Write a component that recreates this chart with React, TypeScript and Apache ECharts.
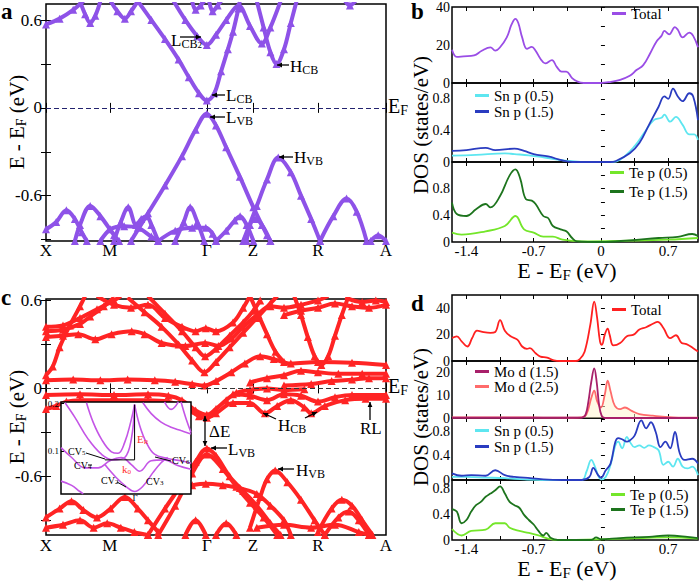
import React, { useEffect, useRef } from 'react';
import * as echarts from 'echarts';

const FONT = '"Liberation Serif", "DejaVu Serif", serif';

// ---------------- data ----------------
const K_POINTS = [0, 0.188, 0.473, 0.609, 0.8, 1.0];
const K_LABELS = ['X', 'M', 'Γ', 'Z', 'R', 'A'];
const BAND_Y_TICKS = [-0.9, -0.6, -0.3, 0, 0.3, 0.6];
const BAND_Y_LABELS = [-0.6, 0, 0.6];
const DOS_X_TICKS = [-1.4, -1.05, -0.7, -0.35, 0, 0.35, 0.7];
const DOS_X_LABELS = [-1.4, -0.7, 0, 0.7];
const INSET_Y_LABELS = [0.1, 0.2];

// band structure (a): [k, E]
const BANDS_A = [
  [[0, 0.57], [0.04, 0.61], [0.08, 0.67], [0.11, 0.73]],
  [[0.1, 0.73], [0.115, 0.64], [0.13, 0.58], [0.145, 0.63], [0.16, 0.73]],
  [[0.19, 0.73], [0.21, 0.66], [0.232, 0.61], [0.25, 0.66], [0.27, 0.73]],
  [[0.27, 0.73], [0.31, 0.6], [0.35, 0.47], [0.39, 0.33], [0.42, 0.21], [0.45, 0.1], [0.473, 0.05], [0.495, 0.1], [0.515, 0.25], [0.535, 0.4], [0.55, 0.52], [0.566, 0.68], [0.57, 0.73]],
  [[0.375, 0.73], [0.41, 0.6], [0.445, 0.49], [0.473, 0.43], [0.5, 0.5], [0.53, 0.6], [0.566, 0.7], [0.6, 0.56], [0.635, 0.44], [0.66, 0.55], [0.69, 0.73]],
  [[0.62, 0.73], [0.64, 0.55], [0.66, 0.38], [0.678, 0.3], [0.7, 0.4], [0.72, 0.58], [0.737, 0.73]],
  [[0.43, 0.73], [0.44, 0.67], [0.455, 0.7], [0.465, 0.73]],
  [[0.48, 0.73], [0.49, 0.66], [0.505, 0.7], [0.515, 0.73]],
  [[0.88, 0.73], [0.894, 0.7], [0.91, 0.73]],
  [[0.25, -0.91], [0.3, -0.72], [0.35, -0.53], [0.4, -0.33], [0.44, -0.15], [0.473, -0.04], [0.5, -0.12], [0.53, -0.27], [0.57, -0.47], [0.61, -0.68], [0.65, -0.87], [0.66, -0.91]],
  [[0.58, -0.91], [0.62, -0.67], [0.65, -0.49], [0.683, -0.34], [0.72, -0.44], [0.75, -0.6], [0.78, -0.76], [0.806, -0.91]],
  [[0.806, -0.91], [0.845, -0.74], [0.884, -0.62], [0.914, -0.71], [0.943, -0.91]],
  [[0.955, -0.91], [0.977, -0.87], [1.0, -0.91]],
  [[0, -0.83], [0.03, -0.78], [0.06, -0.7], [0.085, -0.76], [0.105, -0.85], [0.12, -0.91]],
  [[0.085, -0.91], [0.1, -0.8], [0.13, -0.67], [0.16, -0.74], [0.2, -0.87], [0.215, -0.91]],
  [[0.16, -0.91], [0.19, -0.83], [0.23, -0.81], [0.27, -0.82], [0.31, -0.88], [0.33, -0.91]],
  [[0.2, -0.91], [0.22, -0.78], [0.242, -0.68], [0.265, -0.8], [0.28, -0.76], [0.296, -0.74], [0.31, -0.8], [0.33, -0.91]],
  [[0.38, -0.91], [0.405, -0.78], [0.424, -0.68], [0.445, -0.78], [0.465, -0.91]],
  [[0.33, -0.91], [0.38, -0.84], [0.43, -0.82], [0.47, -0.82], [0.49, -0.86], [0.5, -0.91]],
  [[0.5, -0.91], [0.53, -0.84], [0.555, -0.77], [0.571, -0.74], [0.59, -0.8], [0.61, -0.91]],
  [[0.59, -0.91], [0.6, -0.8], [0.615, -0.76], [0.635, -0.8], [0.66, -0.91]],
];

// band structure (c): [k, E]
const BANDS_C = [
  [[0, 0.42], [0.05, 0.43], [0.1, 0.48], [0.15, 0.54], [0.2, 0.6], [0.22, 0.63]],
  [[0, 0.39], [0.05, 0.4], [0.1, 0.44], [0.13, 0.49], [0.17, 0.56], [0.2, 0.62]],
  [[0, 0.35], [0.05, 0.36], [0.095, 0.37], [0.145, 0.335], [0.193, 0.37], [0.252, 0.39], [0.29, 0.37], [0.34, 0.31], [0.41, 0.29], [0.468, 0.31], [0.507, 0.29], [0.546, 0.34], [0.58, 0.42], [0.62, 0.5], [0.66, 0.56], [0.7, 0.55], [0.75, 0.57], [0.8, 0.6], [0.83, 0.63]],
  [[0, 0.09], [0.02, 0.15], [0.04, 0.28], [0.07, 0.43], [0.1, 0.56], [0.115, 0.63]],
  [[0.24, 0.62], [0.29, 0.52], [0.34, 0.42], [0.39, 0.3], [0.43, 0.19], [0.466, 0.11], [0.5, 0.18], [0.54, 0.28], [0.58, 0.38], [0.62, 0.48], [0.66, 0.58], [0.68, 0.63]],
  [[0.3, 0.63], [0.35, 0.51], [0.4, 0.39], [0.44, 0.28], [0.468, 0.22], [0.5, 0.27], [0.54, 0.36], [0.58, 0.45], [0.61, 0.53], [0.63, 0.6]],
  [[0.15, 0.63], [0.2, 0.57], [0.25, 0.55], [0.3, 0.57], [0.35, 0.48], [0.4, 0.42], [0.44, 0.39], [0.47, 0.41], [0.5, 0.39], [0.55, 0.45], [0.58, 0.55], [0.6, 0.63]],
  [[0.6, 0.63], [0.625, 0.5], [0.65, 0.37], [0.675, 0.25], [0.7, 0.18]],
  [[0.73, 0.63], [0.75, 0.5], [0.77, 0.35], [0.79, 0.22], [0.81, 0.16], [0.83, 0.22], [0.85, 0.36], [0.87, 0.5], [0.89, 0.63]],
  [[0.7, 0.5], [0.75, 0.53], [0.8, 0.55], [0.85, 0.58], [0.9, 0.56], [0.95, 0.55], [1.0, 0.57]],
  [[0.88, 0.62], [0.93, 0.59], [0.97, 0.6], [1.0, 0.59]],
  [[0, 0.055], [0.08, 0.06], [0.16, 0.055], [0.24, 0.06], [0.32, 0.055], [0.38, 0.045], [0.43, 0.03], [0.466, 0.02], [0.5, 0.05], [0.545, 0.11], [0.585, 0.17], [0.63, 0.22], [0.67, 0.2], [0.72, 0.17], [0.8, 0.18], [0.9, 0.175], [1.0, 0.16]],
  [[0.6, 0.04], [0.65, 0.07], [0.7, 0.09], [0.75, 0.12], [0.8, 0.11], [0.86, 0.1], [0.93, 0.1], [1.0, 0.1]],
  [[0.7, 0.02], [0.78, 0.03], [0.84, 0.05], [0.9, 0.06], [0.95, 0.07], [1.0, 0.07]],
  [[0, -0.045], [0.1, -0.04], [0.2, -0.045], [0.3, -0.04], [0.36, -0.05], [0.4, -0.08], [0.44, -0.15], [0.473, -0.18], [0.5, -0.14], [0.53, -0.08], [0.56, -0.03], [0.6, -0.01], [0.65, 0.0], [0.7, -0.01], [0.76, -0.005]],
  [[0, -0.14], [0.03, -0.12], [0.06, -0.09], [0.1, -0.08], [0.2, -0.08], [0.3, -0.08], [0.36, -0.09], [0.41, -0.13], [0.45, -0.19], [0.473, -0.2], [0.5, -0.17], [0.55, -0.1], [0.6, -0.1], [0.644, -0.17], [0.68, -0.12], [0.72, -0.08], [0.76, -0.13], [0.78, -0.17], [0.82, -0.12], [0.88, -0.08], [0.94, -0.07], [1.0, -0.07]],
  [[0.55, -0.04], [0.6, -0.05], [0.65, -0.08], [0.7, -0.04], [0.75, -0.05], [0.8, -0.09], [0.85, -0.06], [0.9, -0.045], [1.0, -0.045]],
  [[0.3, -1.0], [0.35, -0.82], [0.4, -0.65], [0.44, -0.5], [0.473, -0.41], [0.5, -0.46], [0.54, -0.6], [0.58, -0.7], [0.62, -0.8], [0.66, -0.92], [0.69, -1.0]],
  [[0.33, -1.0], [0.38, -0.8], [0.43, -0.58], [0.473, -0.45], [0.52, -0.55], [0.56, -0.67], [0.6, -0.78], [0.64, -0.88], [0.68, -1.0]],
  [[0.43, -0.66], [0.47, -0.65], [0.52, -0.66], [0.57, -0.68], [0.62, -0.72], [0.66, -0.8], [0.7, -0.9], [0.72, -1.0]],
  [[0.6, -0.95], [0.63, -0.74], [0.65, -0.62], [0.674, -0.56], [0.71, -0.64], [0.75, -0.76], [0.79, -0.9], [0.82, -1.0]],
  [[0.8, -0.98], [0.84, -0.82], [0.87, -0.76], [0.9, -0.8], [0.93, -0.9], [0.96, -1.0]],
  [[0.82, -1.0], [0.86, -0.88], [0.89, -0.84], [0.92, -0.9], [0.95, -1.0]],
  [[0.62, -0.95], [0.7, -0.93], [0.78, -0.95], [0.85, -0.93], [0.92, -0.98], [0.95, -1.0]],
  [[0, -0.88], [0.04, -0.82], [0.075, -0.77], [0.11, -0.83], [0.15, -0.88], [0.19, -0.82], [0.232, -0.74], [0.27, -0.82], [0.3, -0.9], [0.33, -0.98]],
  [[0, -0.95], [0.05, -0.93], [0.1, -0.9], [0.14, -0.95], [0.18, -0.92], [0.22, -0.95], [0.26, -0.98], [0.3, -1.0]],
  [[0.41, -1.0], [0.44, -0.9], [0.47, -1.0]],
  [[0.5, -1.0], [0.53, -0.92], [0.56, -1.0]],
];

// inset of (c): [k (relative), E]
const INSET_BANDS = [
  [[0.031, 0.202], [0.107, 0.171], [0.209, 0.125], [0.311, 0.093], [0.4, 0.081], [0.49, 0.086], [0.541, 0.125], [0.566, 0.198]],
  [[0.196, 0.202], [0.247, 0.161], [0.311, 0.125], [0.388, 0.098], [0.439, 0.095], [0.49, 0.118], [0.536, 0.161], [0.566, 0.198]],
  [[0.566, 0.198], [0.605, 0.154], [0.656, 0.118], [0.719, 0.093], [0.821, 0.084], [0.923, 0.079], [1.0, 0.074]],
  [[0.63, 0.202], [0.694, 0.179], [0.77, 0.161], [0.847, 0.15], [0.923, 0.143], [1.0, 0.136]],
  [[0, 0.107], [0.082, 0.086], [0.184, 0.064], [0.286, 0.064], [0.375, 0.079], [0.464, 0.086], [0.541, 0.071], [0.605, 0.057], [0.694, 0.079], [0.796, 0.081], [0.898, 0.069], [1.0, 0.061]],
  [[0.337, 0.071], [0.426, 0.043], [0.503, 0.024], [0.566, 0.014], [0.63, 0.025], [0.707, 0.054], [0.77, 0.075], [0.821, 0.086]],
  [[0, 0.036], [0.082, 0.027], [0.145, 0.014], [0.171, 0.009]],
  [[0.796, 0.204], [0.847, 0.188], [0.903, 0.204]],
  [[0.923, 0.204], [0.962, 0.168], [1.0, 0.139]],
];

// DOS (b)
const B_TOTAL = [[-1.55, 17.5], [-1.5, 13.7], [-1.43, 14], [-1.32, 14.5], [-1.24, 17], [-1.15, 18.8], [-1.1, 17], [-1.05, 18.8], [-0.98, 24], [-0.93, 30.8], [-0.89, 33.8], [-0.86, 31.6], [-0.82, 24], [-0.77, 18], [-0.72, 19], [-0.68, 17], [-0.63, 12.8], [-0.58, 10.3], [-0.51, 12], [-0.46, 8.5], [-0.41, 6], [-0.36, 6], [-0.3, 2.6], [-0.25, 0.9], [-0.18, 0], [0, 0], [0.09, 0.5], [0.2, 1.7], [0.3, 3.8], [0.37, 6.8], [0.44, 9.4], [0.51, 15.4], [0.58, 22], [0.63, 24.8], [0.66, 27.4], [0.71, 25.6], [0.77, 29.4], [0.8, 28], [0.85, 24], [0.92, 26.5], [0.96, 24.8], [1.01, 18.8]];
const B_SNP05 = [[-1.55, 0.08], [-1.3, 0.09], [-1.0, 0.11], [-0.9, 0.1], [-0.75, 0.085], [-0.6, 0.06], [-0.45, 0.03], [-0.3, 0.01], [-0.15, 0], [0.1, 0], [0.2, 0.03], [0.35, 0.2], [0.45, 0.37], [0.55, 0.53], [0.63, 0.56], [0.66, 0.6], [0.72, 0.51], [0.78, 0.57], [0.85, 0.47], [0.92, 0.35], [0.97, 0.35], [1.01, 0.28]];
const B_SNP15 = [[-1.55, 0.14], [-1.4, 0.15], [-1.2, 0.18], [-1.1, 0.15], [-0.9, 0.17], [-0.8, 0.14], [-0.7, 0.1], [-0.55, 0.07], [-0.4, 0.02], [-0.3, 0], [0.1, 0], [0.15, 0.01], [0.3, 0.11], [0.4, 0.24], [0.5, 0.47], [0.6, 0.7], [0.66, 0.83], [0.7, 0.8], [0.75, 0.93], [0.8, 0.83], [0.85, 0.77], [0.92, 0.87], [0.96, 0.83], [1.01, 0.53]];
const B_TEP05 = [[-1.55, 0.14], [-1.45, 0.11], [-1.2, 0.16], [-1.0, 0.24], [-0.89, 0.39], [-0.8, 0.19], [-0.7, 0.14], [-0.6, 0.08], [-0.5, 0.08], [-0.4, 0.035], [-0.2, 0.01], [0.3, 0.02], [0.7, 0.035], [1.01, 0.06]];
const B_TEP15 = [[-1.55, 0.59], [-1.5, 0.42], [-1.4, 0.39], [-1.3, 0.49], [-1.2, 0.57], [-1.15, 0.52], [-1.05, 0.69], [-0.95, 1.0], [-0.89, 1.09], [-0.84, 0.95], [-0.78, 0.64], [-0.72, 0.62], [-0.68, 0.57], [-0.6, 0.39], [-0.55, 0.36], [-0.5, 0.24], [-0.42, 0.19], [-0.36, 0.16], [-0.3, 0.06], [-0.25, 0.01], [0, 0], [0.3, 0.025], [0.6, 0.06], [0.8, 0.076], [0.95, 0.12], [1.01, 0.09]];

// DOS (d)
const D_TOTAL = [[-1.55, 17.4], [-1.5, 18.7], [-1.45, 14.9], [-1.39, 11], [-1.34, 17.4], [-1.29, 23], [-1.22, 21.8], [-1.15, 21.3], [-1.1, 22], [-1.05, 31], [-1.0, 23], [-0.94, 18.7], [-0.87, 16.2], [-0.82, 11], [-0.77, 9.2], [-0.74, 9.7], [-0.68, 5.9], [-0.63, 3.3], [-0.56, 2.6], [-0.49, 0.5], [-0.42, 0], [-0.26, 0], [-0.22, 1.5], [-0.17, 7], [-0.11, 27.7], [-0.07, 45], [-0.04, 32.8], [-0.01, 14.9], [0.01, 12.3], [0.04, 20], [0.07, 24.6], [0.09, 20], [0.13, 11.8], [0.2, 13.6], [0.27, 18.7], [0.34, 20], [0.4, 23.8], [0.47, 25.6], [0.54, 28.2], [0.59, 29.7], [0.65, 25], [0.72, 17.4], [0.78, 19.5], [0.84, 13.6], [0.89, 12.8], [0.96, 9.7], [1.01, 7.2]];
const D_MOD15 = [[-1.55, 0.1], [-0.3, 0.1], [-0.2, 0.2], [-0.16, 1.5], [-0.13, 7.4], [-0.1, 16], [-0.07, 21.7], [-0.045, 16], [-0.02, 6], [0.007, 1], [0.04, 0], [1.01, 0]];
const D_MOD25 = [[-1.55, 0.3], [-1.2, 0.3], [-0.9, 0.3], [-0.6, 0.2], [-0.3, 0.1], [-0.2, 0.3], [-0.15, 1.7], [-0.1, 8.9], [-0.07, 12], [-0.04, 7.4], [0, 4.6], [0.04, 10.3], [0.07, 16.4], [0.1, 11.7], [0.145, 5.3], [0.2, 3.9], [0.25, 4.6], [0.32, 3.1], [0.4, 1.7], [0.54, 1], [0.75, 0.3], [1.01, 0.1]];
const D_SNP05 = [[-1.55, 0.05], [-1.4, 0.05], [-1.2, 0.04], [-1.0, 0.03], [-0.8, 0.01], [-0.6, 0], [-0.2, 0], [-0.15, 0.14], [-0.1, 0.33], [-0.07, 0.25], [-0.03, 0.08], [0, 0.01], [0.05, 0.05], [0.1, 0.25], [0.15, 0.57], [0.18, 0.63], [0.22, 0.52], [0.27, 0.71], [0.3, 0.63], [0.35, 0.54], [0.4, 0.57], [0.45, 0.53], [0.5, 0.57], [0.55, 0.54], [0.6, 0.49], [0.65, 0.25], [0.7, 0.3], [0.75, 0.22], [0.8, 0.35], [0.85, 0.22], [0.9, 0.19], [0.95, 0.22], [1.01, 0.08]];
const D_SNP15 = [[-1.55, 0.11], [-1.45, 0.07], [-1.35, 0.08], [-1.2, 0.07], [-1.1, 0.16], [-1.0, 0.08], [-0.9, 0.05], [-0.8, 0.04], [-0.6, 0.01], [-0.4, 0], [-0.2, 0], [-0.12, 0.05], [-0.08, 0.2], [-0.03, 0.08], [0, 0.04], [0.05, 0.16], [0.1, 0.27], [0.15, 0.63], [0.18, 0.69], [0.22, 0.67], [0.27, 0.63], [0.3, 0.65], [0.35, 0.73], [0.42, 0.98], [0.47, 0.85], [0.52, 0.95], [0.57, 0.79], [0.62, 0.54], [0.67, 0.63], [0.72, 0.52], [0.77, 0.79], [0.82, 0.44], [0.87, 0.33], [0.95, 0.35], [1.01, 0.27]];
const D_TEP05 = [[-1.55, 0.17], [-1.45, 0.07], [-1.35, 0.14], [-1.2, 0.16], [-1.1, 0.26], [-1.0, 0.26], [-0.95, 0.19], [-0.85, 0.14], [-0.75, 0.11], [-0.65, 0.07], [-0.55, 0.02], [-0.45, 0], [0, 0.01], [0.4, 0.03], [0.7, 0.04], [1.01, 0.02]];
const D_TEP15 = [[-1.55, 0.48], [-1.5, 0.44], [-1.45, 0.26], [-1.4, 0.31], [-1.35, 0.44], [-1.3, 0.54], [-1.25, 0.59], [-1.2, 0.67], [-1.15, 0.72], [-1.1, 0.77], [-1.05, 0.83], [-1.0, 0.72], [-0.95, 0.59], [-0.9, 0.54], [-0.85, 0.5], [-0.8, 0.39], [-0.75, 0.31], [-0.7, 0.24], [-0.65, 0.14], [-0.6, 0.07], [-0.57, 0.11], [-0.52, 0.03], [-0.45, 0], [-0.1, 0], [-0.05, 0.04], [0, 0.01], [0.2, 0.03], [0.5, 0.05], [0.7, 0.07], [0.9, 0.05], [1.01, 0.03]];

// ---------------- layout & styles ----------------
const PANEL_A = { left: 46, top: 4, width: 340, height: 237, yMin: -0.91, yMax: 0.71 };
const PANEL_C = { left: 46, top: 299, width: 340, height: 236, yMin: -1.0, yMax: 0.61 };
const INSET = { left: 61, top: 402, width: 130, height: 92, yMin: 0.0087, yMax: 0.2036 };
const DOS_LEFT = 452;
const DOS_WIDTH = 246;
const DOS_XMIN = -1.55;
const DOS_XMAX = 1.01;
const B_PANELS = [
  { top: 3, height: 80, max: 40, labels: [0, 20, 40], ticks: [0, 10, 20, 30, 40] },
  { top: 83, height: 79, max: 1.0, labels: [0, 0.4, 0.8], ticks: [0, 0.2, 0.4, 0.6, 0.8] },
  { top: 162, height: 80, max: 1.2, labels: [0, 0.4, 0.8], ticks: [0, 0.2, 0.4, 0.6, 0.8, 1.0] },
];
const D_PANELS = [
  { top: 295, height: 66, max: 50, labels: [0, 20, 40], ticks: [0, 10, 20, 30, 40] },
  { top: 361, height: 57, max: 25, labels: [0, 10, 20], ticks: [0, 5, 10, 15, 20] },
  { top: 418, height: 62, max: 1.02, labels: [0, 0.4, 0.8], ticks: [0, 0.2, 0.4, 0.6, 0.8, 1.0] },
  { top: 480, height: 60, max: 0.93, labels: [0, 0.4, 0.8], ticks: [0, 0.2, 0.4, 0.6, 0.8] },
];

const C_PURPLE = '#8e52e8';
const C_RED = '#ff2424';
const C_INSET = '#c455e6';

function kLabel(v: number) {
  const i = K_POINTS.findIndex((p) => Math.abs(p - v) < 1e-6);
  return i >= 0 ? K_LABELS[i] : '';
}
function numLabel(v: number) {
  const r = Math.round(v * 100) / 100;
  return r === 0 ? '0' : String(r);
}

function rich(size: number, color = '#000') {
  const s = Math.round(size * 0.68);
  const ss = Math.round(size * 0.5);
  return {
    m: { fontSize: size, fontFamily: FONT, fill: color, lineHeight: Math.round(size * 1.1) },
    s: { fontSize: s, fontFamily: FONT, fill: color, lineHeight: Math.round(size * 0.45), verticalAlign: 'bottom' },
    ss: { fontSize: ss, fontFamily: FONT, fill: color, lineHeight: Math.round(size * 0.2), verticalAlign: 'bottom' },
    b: { fontSize: size, fontFamily: FONT, fill: color, fontWeight: 'bold', lineHeight: Math.round(size * 0.6) },
  };
}
function txt(x: number, y: number, text: string, size: number, opts: any = {}) {
  return {
    type: 'text', x, y, z: 100, rotation: opts.rotation || 0,
    style: { text, rich: rich(size, opts.color || '#000'), align: opts.align || 'left', verticalAlign: 'middle' },
  };
}
function arrow(x1: number, y1: number, x2: number, y2: number, opts: any = {}) {
  const color = opts.color || '#000';
  const head = opts.head || 5;
  const half = opts.half || 2.4;
  const els: any[] = [{ type: 'line', z: 100, shape: { x1, y1, x2, y2 }, style: { stroke: color, lineWidth: opts.width || 1.3 } }];
  if (opts.noHead) return els;
  const heads = opts.both ? [[x2, y2, x1, y1], [x1, y1, x2, y2]] : [[x2, y2, x1, y1]];
  heads.forEach(([hx, hy, fx, fy]) => {
    const dx = hx - fx, dy = hy - fy, len = Math.hypot(dx, dy) || 1;
    const ux = dx / len, uy = dy / len;
    const bx = hx - ux * head, by = hy - uy * head;
    els.push({ type: 'polygon', z: 100, shape: { points: [[hx, hy], [bx - uy * half, by + ux * half], [bx + uy * half, by - ux * half]] }, style: { fill: color } });
  });
  return els;
}
function pxI(u: number, v: number) {
  return [INSET.left + u * INSET.width, INSET.top + ((INSET.yMax - v) / (INSET.yMax - INSET.yMin)) * INSET.height];
}

function buildOption() {
  const grid: any[] = [];
  const xAxis: any[] = [];
  const yAxis: any[] = [];
  const series: any[] = [];
  const addGrid = (g: any) => { grid.push(g); return grid.length - 1; };
  const addX = (a: any) => { xAxis.push(a); return xAxis.length - 1; };
  const addY = (a: any) => { yAxis.push(a); return yAxis.length - 1; };
  const tickStyle = { color: '#000', width: 1 };
  const lblBase = { color: '#000', fontFamily: FONT };

  const bandPanel = (cfg: any, bands: number[][][], color: string, efColor: string, xMargin: number) => {
    const gi = addGrid({ left: cfg.left, top: cfg.top, width: cfg.width, height: cfg.height, show: true, borderColor: '#000', borderWidth: 1.5, backgroundColor: 'transparent' });
    const xi = addX({
      gridIndex: gi, type: 'value', min: 0, max: 1, position: 'bottom',
      axisLine: { show: false }, splitLine: { show: false },
      axisTick: { show: true, inside: true, length: 5, customValues: K_POINTS, lineStyle: tickStyle },
      axisLabel: { show: true, customValues: K_POINTS, formatter: kLabel, ...lblBase, fontSize: 17, margin: xMargin },
    });
    addX({
      gridIndex: gi, type: 'value', min: 0, max: 1, position: 'top',
      axisLine: { show: false }, splitLine: { show: false },
      axisTick: { show: true, inside: true, length: 5, customValues: K_POINTS, lineStyle: tickStyle },
      axisLabel: { show: false },
    });
    const yi = addY({
      gridIndex: gi, type: 'value', min: cfg.yMin, max: cfg.yMax, position: 'left',
      axisLine: { show: false }, splitLine: { show: false },
      axisTick: { show: true, inside: true, length: 5, customValues: BAND_Y_TICKS, lineStyle: tickStyle },
      axisLabel: { show: true, customValues: BAND_Y_LABELS, formatter: numLabel, ...lblBase, fontSize: 17, margin: 4 },
    });
    addY({
      gridIndex: gi, type: 'value', min: cfg.yMin, max: cfg.yMax, position: 'right',
      axisLine: { show: false }, splitLine: { show: false },
      axisTick: { show: true, inside: true, length: 5, customValues: BAND_Y_TICKS, lineStyle: tickStyle },
      axisLabel: { show: false },
    });
    bands.forEach((b, i) => {
      series.push({
        type: 'line', xAxisIndex: xi, yAxisIndex: yi, data: b, smooth: 0.35,
        symbol: 'triangle', symbolSize: 8, showSymbol: true,
        lineStyle: { width: 4, color }, itemStyle: { color }, silent: true, z: 3,
        markLine: i === 0 ? {
          silent: true, symbol: ['none', 'none'], label: { show: false },
          lineStyle: { type: [5, 3], color: efColor, width: 1.2 }, data: [{ yAxis: 0 }], z: 6,
        } : undefined,
      });
    });
  };

  const dosPanels = (panels: any[], groups: any[][]) => {
    panels.forEach((p, idx) => {
      const last = idx === panels.length - 1;
      const gi = addGrid({ left: DOS_LEFT, top: p.top, width: DOS_WIDTH, height: p.height, show: true, borderColor: '#000', borderWidth: 1.5, backgroundColor: 'transparent' });
      const xi = addX({
        gridIndex: gi, type: 'value', min: DOS_XMIN, max: DOS_XMAX, position: 'bottom',
        axisLine: { show: false }, splitLine: { show: false },
        axisTick: { show: true, inside: true, length: 4, customValues: DOS_X_TICKS, lineStyle: tickStyle },
        axisLabel: last ? { show: true, customValues: DOS_X_LABELS, formatter: numLabel, ...lblBase, fontSize: 15, lineHeight: 12, margin: 3 } : { show: false },
      });
      addX({
        gridIndex: gi, type: 'value', min: DOS_XMIN, max: DOS_XMAX, position: 'top',
        axisLine: { show: false }, splitLine: { show: false },
        axisTick: { show: true, inside: true, length: 4, customValues: DOS_X_TICKS, lineStyle: tickStyle },
        axisLabel: { show: false },
      });
      const yi = addY({
        gridIndex: gi, type: 'value', min: 0, max: p.max, position: 'left',
        axisLine: { show: false }, splitLine: { show: false },
        axisTick: { show: true, inside: true, length: 4, customValues: p.ticks, lineStyle: tickStyle },
        axisLabel: { show: true, customValues: p.labels, formatter: numLabel, ...lblBase, fontSize: 14, lineHeight: 10, margin: 2 },
      });
      groups[idx].forEach((s) => {
        series.push({
          type: 'line', name: s.name, xAxisIndex: xi, yAxisIndex: yi, data: s.data, smooth: 0.4,
          symbol: 'none', lineStyle: { width: 1.8, color: s.color }, itemStyle: { color: s.color },
          areaStyle: s.area ? { color: s.area } : undefined, silent: true, z: s.z || 3,
        });
      });
    });
  };

  bandPanel(PANEL_A, BANDS_A, C_PURPLE, '#22226e', 1);
  dosPanels(B_PANELS, [
    [{ name: 'Total#b', data: B_TOTAL, color: '#9a4de6' }],
    [{ name: 'Sn p (0.5)#b', data: B_SNP05, color: '#5ee6f0' }, { name: 'Sn p (1.5)#b', data: B_SNP15, color: '#2a3cc0' }],
    [{ name: 'Te p (0.5)#b', data: B_TEP05, color: '#74e62a' }, { name: 'Te p (1.5)#b', data: B_TEP15, color: '#1d741d' }],
  ]);
  bandPanel(PANEL_C, BANDS_C, C_RED, '#333333', 2);
  dosPanels(D_PANELS, [
    [{ name: 'Total#d', data: D_TOTAL, color: '#ff2020' }],
    [{ name: 'Mo d (2.5)#d', data: D_MOD25, color: '#ff6b6b', area: 'rgba(255,244,205,0.75)', z: 3 }, { name: 'Mo d (1.5)#d', data: D_MOD15, color: '#a8206a', z: 4 }],
    [{ name: 'Sn p (0.5)#d', data: D_SNP05, color: '#5ee6f0' }, { name: 'Sn p (1.5)#d', data: D_SNP15, color: '#2a3cc0' }],
    [{ name: 'Te p (0.5)#d', data: D_TEP05, color: '#74e62a' }, { name: 'Te p (1.5)#d', data: D_TEP15, color: '#1d741d' }],
  ]);

  // inset in (c)
  const ig = addGrid({ left: INSET.left, top: INSET.top, width: INSET.width, height: INSET.height, show: true, backgroundColor: '#fff', borderColor: '#000', borderWidth: 1.5, z: 10 });
  const ix = addX({ gridIndex: ig, type: 'value', min: 0, max: 1, z: 11, axisLine: { show: false }, axisTick: { show: false }, axisLabel: { show: false }, splitLine: { show: false } });
  const iy = addY({
    gridIndex: ig, type: 'value', min: INSET.yMin, max: INSET.yMax, z: 11,
    axisLine: { show: false }, splitLine: { show: false },
    axisTick: { show: true, inside: true, length: 3, customValues: INSET_Y_LABELS, lineStyle: tickStyle },
    axisLabel: { show: true, customValues: INSET_Y_LABELS, formatter: numLabel, ...lblBase, fontSize: 9, margin: 2 },
  });
  INSET_BANDS.forEach((b) => {
    series.push({ type: 'line', xAxisIndex: ix, yAxisIndex: iy, data: b, smooth: 0.4, symbol: 'none', lineStyle: { width: 1.6, color: C_INSET }, silent: true, z: 12 });
  });

  const legendBase = {
    orient: 'vertical', padding: 0, itemWidth: 14, itemHeight: 3, icon: 'rect', selectedMode: false,
    textStyle: { fontFamily: FONT, fontSize: 15, color: '#000', lineHeight: 15 },
    formatter: (n: string) => n.split('#')[0],
  };
  const legend = [
    { ...legendBase, left: 612, top: 6, data: ['Total#b'] },
    { ...legendBase, left: 475, top: 88, itemGap: 1, data: ['Sn p (0.5)#b', 'Sn p (1.5)#b'] },
    { ...legendBase, left: 610, top: 165, itemGap: 4, data: ['Te p (0.5)#b', 'Te p (1.5)#b'] },
    { ...legendBase, left: 612, top: 302, data: ['Total#d'] },
    { ...legendBase, left: 475, top: 364, itemGap: 0, data: ['Mo d (1.5)#d', 'Mo d (2.5)#d'] },
    { ...legendBase, left: 475, top: 423, itemGap: 1, data: ['Sn p (0.5)#d', 'Sn p (1.5)#d'] },
    { ...legendBase, left: 611, top: 487, itemGap: 0, data: ['Te p (0.5)#d', 'Te p (1.5)#d'] },
  ];

  const R90 = Math.PI / 2;
  const [erTopX, erTopY] = pxI(0.566, 0.198);
  const [erBotX, erBotY] = pxI(0.566, 0.081);
  const [k0X, k0Y] = pxI(0.338, 0.081);
  const elements: any[] = [
    // panel letters
    txt(1, 11, '{b|a}', 23),
    txt(411, 11, '{b|b}', 23),
    txt(1, 297, '{b|c}', 23),
    txt(411, 303, '{b|d}', 23),
    // axis titles
    txt(17, 122, '{m|E - E}{s|F}{m| (eV)}', 21, { rotation: R90, align: 'center' }),
    txt(17, 417, '{m|E - E}{s|F}{m| (eV)}', 21, { rotation: R90, align: 'center' }),
    txt(421, 125, '{m|DOS (states/eV)}', 21, { rotation: R90, align: 'center' }),
    txt(421, 417, '{m|DOS (states/eV)}', 21, { rotation: R90, align: 'center' }),
    txt(567, 270, '{m|E - E}{s|F}{m| (eV)}', 22, { align: 'center' }),
    txt(567, 568, '{m|E - E}{s|F}{m| (eV)}', 22, { align: 'center' }),
    // E_F labels
    txt(388, 106, '{m|E}{s|F}', 20),
    txt(388, 386, '{m|E}{s|F}', 20),
    // panel a annotations
    txt(171, 40, '{m|L}{s|CB}{ss|2}', 17),
    ...arrow(180, 37, 201, 37),
    txt(290, 66, '{m|H}{s|CB}', 17),
    ...arrow(289, 65, 277, 65),
    txt(226, 95, '{m|L}{s|CB}', 17),
    ...arrow(225, 95, 212, 95),
    txt(226, 117, '{m|L}{s|VB}', 17),
    ...arrow(225, 117, 210, 117),
    txt(294, 157, '{m|H}{s|VB}', 17),
    ...arrow(293, 157, 279, 157),
    // panel c annotations
    ...arrow(205, 416, 205, 446, { both: true }),
    txt(209, 431, '{m|ΔE}', 17),
    txt(228, 449, '{m|L}{s|VB}', 17),
    ...arrow(227, 448, 211, 448),
    txt(296, 470, '{m|H}{s|VB}', 17),
    ...arrow(294, 469, 278, 469),
    txt(278, 425, '{m|H}{s|CB}', 17),
    ...arrow(276, 419, 263, 413),
    ...arrow(305, 418, 317, 412),
    txt(360, 428, '{m|RL}', 17),
    ...arrow(370, 420, 370, 402),
    // inset annotations
    ...arrow(erTopX, erTopY, erBotX, erBotY, { noHead: true, width: 1 }),
    ...arrow(k0X, k0Y, erBotX, erBotY, { noHead: true, width: 1 }),
    ...arrow(86, 453, 105, 459, { noHead: true, width: 1 }),
    ...arrow(88, 465, 92, 465, { noHead: true, width: 1 }),
    ...arrow(117, 482, 126, 487, { noHead: true, width: 1 }),
    ...arrow(155, 457, 171, 461, { noHead: true, width: 1 }),
    txt(68, 451, '{m|CV}{s|5}', 10),
    txt(74, 465, '{m|CV}{s|4}', 10),
    txt(101, 480, '{m|CV}{s|2}', 10),
    txt(146, 481, '{m|CV}{s|3}', 10),
    txt(172, 460, '{m|CV}{s|6}', 10),
    txt(137, 439, '{m|E}{s|R}', 11, { color: '#ff3030' }),
    txt(122, 469, '{m|k}{s|0}', 11, { color: '#ff3030' }),
    txt(135, 498, '{m|Γ}', 9, { align: 'center' }),
  ];

  return {
    animation: false,
    backgroundColor: '#fff',
    textStyle: { fontFamily: FONT },
    grid, xAxis, yAxis, series, legend,
    graphic: { elements },
  };
}

export default function App() {
  const ref = useRef<HTMLDivElement>(null);
  useEffect(() => {
    if (!ref.current) return;
    const chart = echarts.init(ref.current, undefined, { renderer: 'svg' });
    chart.setOption(buildOption() as any);
    return () => chart.dispose();
  }, []);
  return (
    <div style={{ position: 'absolute', left: 0, top: 0, width: 700, height: 581, background: '#fff' }}>
      <div ref={ref} style={{ width: 700, height: 581 }} />
    </div>
  );
}
